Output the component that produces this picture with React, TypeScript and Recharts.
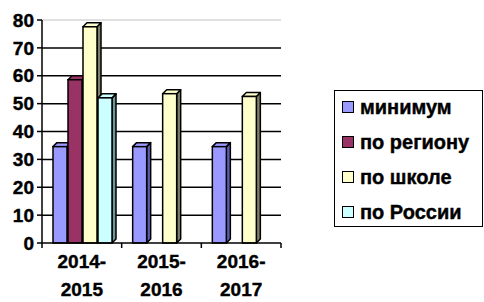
import React from 'react';
import { BarChart, Bar, XAxis, YAxis, CartesianGrid } from 'recharts';

const categories = ['2014-2015', '2015-2016', '2016-2017'];
const minimum = [36, 36, 36];
const region: (number | null)[] = [60, null, null];
const school = [79, 55, 54];
const russia: (number | null)[] = [53.5, null, null];
const yTicks = [0, 10, 20, 30, 40, 50, 60, 70, 80];
const innerGrid = [10, 20, 30, 40, 50, 60, 70];
const topGrid = [80];

const seriesNames = ['минимум', 'по региону', 'по школе', 'по России'];
const seriesKeys = ['s0', 's1', 's2', 's3'];
const colors = ['#9999FF', '#993366', '#FFFFCC', '#CCFFFF'];
const sideColors = ['#5c5cb0', '#4d1a33', '#808066', '#6b9999'];

const data = categories.map((c, i) => ({
  cat: c,
  s0: minimum[i],
  s1: region[i],
  s2: school[i],
  s3: russia[i],
}));

const FONT = '"Liberation Sans", Arial, sans-serif';
const D = 4;

const make3D = (front: string, side: string) => (props: any) => {
  const { x, y, width: w, height: h } = props;
  if (h == null || !(h > 0) || isNaN(y)) return <g />;
  return (
    <g>
      <path
        d={`M${x + w},${y + D} L${x + w + D},${y} L${x + w + D},${y + h - D} L${x + w},${y + h} Z`}
        fill={side}
        stroke="#000"
        strokeWidth={1.5}
        strokeLinejoin="round"
      />
      <path
        d={`M${x},${y + D} L${x + D},${y} L${x + w + D},${y} L${x + w},${y + D} Z`}
        fill={front}
        stroke="#000"
        strokeWidth={1.5}
        strokeLinejoin="round"
      />
      <rect x={x} y={y + D} width={w} height={h - D} fill={front} stroke="#000" strokeWidth={1.5} />
    </g>
  );
};

const XTick = (props: any) => {
  const { x, y, payload, index, visibleTicksCount } = props;
  const half = payload && payload.offset ? payload.offset : 40;
  const parts = String(payload.value).split('-');
  const tp = {
    textAnchor: 'middle' as const,
    fontSize: 19,
    fontWeight: 700,
    fill: '#000',
    stroke: '#000',
    strokeWidth: 0.4,
    fontFamily: FONT,
  };
  return (
    <g>
      <line x1={x - half} x2={x - half} y1={y} y2={y + 5} stroke="#000" strokeWidth={1.5} />
      {index === visibleTicksCount - 1 && (
        <line x1={x + half} x2={x + half} y1={y} y2={y + 5} stroke="#000" strokeWidth={1.5} />
      )}
      <text x={x} y={y + 25} {...tp}>
        {parts[0] + '-'}
      </text>
      <text x={x} y={y + 53} {...tp}>
        {parts[1]}
      </text>
    </g>
  );
};

export default function App() {
  return (
    <div
      style={{
        position: 'absolute',
        left: 0,
        top: 0,
        width: 484,
        height: 302,
        background: '#fff',
        fontFamily: FONT,
      }}
    >
      <BarChart
        width={484}
        height={302}
        data={data}
        margin={{ top: 20, right: 203, bottom: 0, left: 0 }}
        barCategoryGap={11}
        barGap={1}
      >
        <CartesianGrid vertical={false} horizontalValues={innerGrid} stroke="#000" strokeWidth={1.5} />
        <CartesianGrid vertical={false} horizontalValues={topGrid} stroke="#c0c0c0" strokeWidth={1} />
        <XAxis
          dataKey="cat"
          interval={0}
          tickLine={false}
          tickSize={0}
          tickMargin={0}
          height={59}
          axisLine={{ stroke: '#000', strokeWidth: 1.5 }}
          tick={<XTick />}
        />
        <YAxis
          width={42}
          domain={[0, 80]}
          ticks={yTicks}
          interval={0}
          tickSize={5}
          tickMargin={3}
          axisLine={{ stroke: '#000', strokeWidth: 1.5 }}
          tickLine={{ stroke: '#000', strokeWidth: 1.5 }}
          tick={{
            fill: '#000',
            stroke: '#000',
            strokeWidth: 0.4,
            fontSize: 19,
            fontWeight: 700,
            fontFamily: FONT,
          }}
        />
        {seriesKeys.map((k, i) => (
          <Bar
            key={k}
            dataKey={k}
            name={seriesNames[i]}
            fill={colors[i]}
            isAnimationActive={false}
            shape={make3D(colors[i], sideColors[i])}
          />
        ))}
      </BarChart>
      <div
        style={{
          position: 'absolute',
          left: 334,
          top: 90,
          width: 147,
          height: 135,
          border: '1.5px solid #000',
          background: '#fff',
        }}
      >
        {seriesNames.map((n, i) => (
          <div
            key={n}
            style={{
              position: 'absolute',
              left: 7,
              top: -1.5 + i * 35,
              height: 35,
              display: 'flex',
              alignItems: 'center',
              whiteSpace: 'nowrap',
            }}
          >
            <div
              style={{
                width: 10,
                height: 10,
                background: colors[i],
                border: '1.5px solid #000',
                marginRight: 6,
              }}
            />
            <span
              style={{
                fontSize: 20,
                fontWeight: 700,
                color: '#000',
                fontFamily: FONT,
                WebkitTextStroke: '0.4px #000',
              }}
            >
              {n}
            </span>
          </div>
        ))}
      </div>
    </div>
  );
}
